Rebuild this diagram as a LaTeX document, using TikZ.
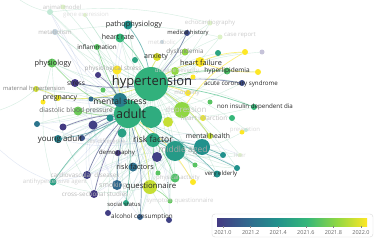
\documentclass[tikz,border=0pt]{standalone}
\usepackage{fontspec}
\setmainfont{Open Sans}
\usetikzlibrary{backgrounds}
\definecolor{v0}{HTML}{443A83}
\definecolor{v1}{HTML}{31688E}
\definecolor{v2}{HTML}{21918C}
\definecolor{v3}{HTML}{35B779}
\definecolor{v4}{HTML}{90D743}
\definecolor{v5}{HTML}{FDE725}
\definecolor{faint}{HTML}{A9DCC2}
\definecolor{faintb}{HTML}{B9C8E6}
\begin{document}
\begin{tikzpicture}[x=1pt,y=-1pt,
  nd/.style={circle, inner sep=0pt, minimum size=#1pt, draw=none},
  fdn/.style={fill opacity=0.3},
  lb/.style={inner sep=0pt, text=black!85, font=\fontsize{#1}{#1}\selectfont},
  flb/.style={inner sep=0pt, text=black!28, font=\fontsize{#1}{#1}\selectfont},
  mlb/.style={inner sep=0pt, text=black!50, font=\fontsize{#1}{#1}\selectfont},
  ed/.style={line width=0.7pt, draw=#1, draw opacity=0.6},
  fe/.style={line width=0.4pt, draw=faint, draw opacity=0.5},
  fb/.style={line width=0.4pt, draw=faintb, draw opacity=0.45},
  tick/.style={inner sep=0pt, text=black!60, font=\fontsize{5.5}{5.5}\selectfont}]
\useasboundingbox (0,0) rectangle (377,241);
\begin{scope}[on background layer]
\fill[white] (0,0) rectangle (377,241);
\end{scope}

% ---------- circles ----------
\node[nd=34, fill=v3!85!v2] (nHyp) at (151,84) {};
\node[nd=22, fill=v3!70!v2] (nAdult2) at (151,117) {};
\node[nd=28, fill=v3!80!v2] (nAdult) at (128,114) {};
\node[nd=14, fill=v1!50!v2] (nMS) at (120,100) {};
\node[nd=20, fill=v2!75!v3] (nMA) at (175,151) {};
\node[nd=16, fill=v2] (nMA2) at (202,147) {};
\node[nd=14, fill=v2!40!v3] (nRF) at (153,140) {};
\node[nd=10, fill=v0!85!v1] (u1) at (157,157) {};
\node[nd=14, fill=v4!50!v5] (nQ) at (150,187) {};
\node[nd=10, fill=v1] (nSmk) at (117,185) {};
\node[nd=9, fill=v1!80!v2] (nRFs) at (133,167) {};
\node[nd=6, fill=v0] (nDemo) at (118,153) {};
\node[nd=8, fill=v0!85!v1] (nCVD) at (87,175) {};
\node[nd=7, fill=v2!60!v3] (nAHA) at (53,182) {};
\node[nd=8, fill=v0] (nCSS) at (94,194) {};
\node[nd=6, fill=v2!50!v3] (nSoc) at (126,203) {};
\node[nd=6, fill=v1!80!v0] (nAlc) at (140,217) {};
\node[nd=6, fill=v0!90!v1] (u2) at (108,213) {};
\node[nd=6, fill=v0!80!v1] (u3) at (169,220) {};
\node[nd=9, fill=v3!70!v4] (nPA) at (175,178) {};
\node[nd=7, fill=v2] (nVE) at (217,174) {};
\node[nd=5, fill=v3!50!v4] (nSQ) at (170,201) {};
\node[nd=8, fill=v1!40!v2] (nYA) at (58,139) {};
\node[nd=6, fill=v0!50!v1] (nSex) at (82,138) {};
\node[nd=9, fill=v4!60!v3] (nDBP) at (78,111) {};
\node[nd=6, fill=v5!80!v4] (nPreg) at (58,98) {};
\node[nd=5, fill=v5] (nPreg2) at (43,102) {};
\node[nd=6, fill=v4!40!v5] (nMat) at (36,89) {};
\node[nd=8, fill=v0] (nStr) at (75,83) {};
\node[nd=9, fill=v3!50!v4] (nPhy) at (52,63) {};
\node[nd=9, fill=v5] (nPS) at (117,70) {};
\node[nd=6, fill=v3!60!v4] (nInf) at (97,47) {};
\node[nd=6, fill=v1, fdn] (nMet) at (55,32) {};
\node[nd=6, fill=v3, fdn] (nAM) at (50,12) {};
\node[nd=5, fill=v4, fdn] (nAM2) at (63,7) {};
\node[nd=4, fill=v4, fdn] (nGE) at (85,15) {};
\node[nd=9, fill=v2] (nPath) at (128,25) {};
\node[nd=9, fill=v3] (nHR) at (120,38) {};
\node[nd=6, fill=v0!60!v1] (nMedH) at (187,33) {};
\node[nd=5, fill=v4, fdn] (nEcho) at (210,23) {};
\node[nd=5, fill=v4, fdn] (nCase) at (220,37) {};
\node[nd=4, fill=v1, fdn] (nMetab) at (162,42) {};
\node[nd=7, fill=v4] (nDys) at (185,52) {};
\node[nd=8, fill=v5!70!v4] (nAnx) at (157,57) {};
\node[nd=6, fill=v2!50!v3] (u4) at (135,60) {};
\node[nd=10, fill=v5] (nHF) at (200,62) {};
\node[nd=6, fill=v2!50!v3] (u5) at (218,53) {};
\node[nd=6, fill=v5] (u6) at (245,52) {};
\node[nd=6, fill=v5] (u7) at (258,72) {};
\node[nd=5, fill=v0, fdn] (u8) at (262,52) {};
\node[nd=8, fill=v4] (nDS) at (175,71) {};
\node[nd=5, fill=v5] (u9) at (193,77) {};
\node[nd=7, fill=v3!70!v4] (nHL) at (227,71) {};
\node[nd=6, fill=v1!40!v0] (nACS) at (242,83) {};
\node[nd=6, fill=v5] (nMort) at (188,93) {};
\node[nd=6, fill=v3] (nNIDD) at (254,107) {};
\node[nd=16, fill=v4] (nDep) at (182,110) {};
\node[nd=6, fill=v5!80!v4] (nHI) at (203,118) {};
\node[nd=10, fill=v5!50!v4] (u10) at (168,122) {};
\node[nd=5, fill=v3!60!v4] (u11) at (210,102) {};
\node[nd=6, fill=v3] (u12) at (232,118) {};
\node[nd=5, fill=v5] (u13) at (242,132) {};
\node[nd=6, fill=v4!50!v5] (nMH) at (210,136) {};
\node[nd=6, fill=v2] (u14) at (223,155) {};
\node[nd=6, fill=v2] (u15) at (237,168) {};
\node[nd=5, fill=v3!60!v4] (u16) at (195,165) {};
\node[nd=6, fill=v5] (u17) at (193,182) {};
\node[nd=5, fill=v3!60!v4] (u18) at (158,173) {};
\node[nd=6, fill=v0] (u19) at (98,75) {};
\node[nd=9, fill=v0!90!v1] (u20) at (93,125) {};
\node[nd=7, fill=v0] (u21) at (63,127) {};
\node[nd=6, fill=v1!70!v2] (u22) at (37,124) {};
\node[nd=5, fill=v1] (u23) at (91,99) {};
\node[nd=7, fill=v2] (u24) at (110,118) {};
\node[nd=9, fill=v2!60!v3] (u25) at (122,133) {};
\node[nd=5, fill=v3!60!v4] (u26) at (103,90) {};
\node[nd=4, fill=v4, fdn] (nLiv) at (240,155) {};
\node[nd=4, fill=v3, fdn] (nPrev) at (246,130) {};
\coordinate (e1) at (0,150);
\coordinate (e2) at (0,110);
\coordinate (e3) at (20,0);

% ---------- edges ----------
\begin{scope}[on background layer]
\foreach \n in {nAdult,nMS,nRF,nMA,nMA2,nQ,nSmk,nRFs,nDemo,nCVD,nAHA,nCSS,nSoc,nAlc,nPA,nVE,nSQ,nYA,nSex,nDBP,nPreg,nMat,nStr,nPhy,nPS,nInf,nMet,nAM,nGE,nPath,nHR,nMedH,nEcho,nCase,nDys,nAnx,nHF,u5,u6,u7,u8,nDS,nHL,nACS,nMort,nNIDD,nDep,nHI,nMH,u14,u15,u17,u21,u22,nLiv,nPrev}
  \draw[fe] (nHyp) to[bend left=10] (\n);
\foreach \n in {nQ,nSmk,nRFs,nDemo,nCVD,nAHA,nCSS,nSoc,nAlc,nPA,nVE,nSQ,nYA,nSex,nDBP,nPreg,nMat,nStr,nPhy,nPS,nInf,nMet,nAM,nAM2,nGE,nPath,nHR,nMedH,nEcho,nCase,nHF,nHL,nACS,nNIDD,nDep,nMH,u14,u15,u2,u3,u21,u22,nLiv}
  \draw[fe] (nAdult) to[bend right=10] (\n);
\foreach \n in {nQ,nSmk,nCVD,nAHA,nCSS,nSoc,nAlc,nPA,nVE,nSQ,nYA,nSex,u2,u3,u14,u15,u16,u17,nMH,nLiv,nDBP,u22}
  \draw[fb] (nRF) to[bend left=12] (\n);
\foreach \n in {nPhy,nInf,nMet,nAM,nPath,nHR,nStr,nPreg,nMat,nDBP,nYA,u22,nAHA,nCVD,nPS}
  \draw[fb] (nMS) to[bend left=12] (\n);
\foreach \n in {nQ,nSmk,nCSS,nSoc,nAlc,nVE,nSQ,u14,u15,nLiv,nPrev,nMH,nCVD}
  \draw[fe] (nMA) to[bend right=12] (\n);
\foreach \n in {nCVD,nCSS,nSmk,nAlc,nYA,nSex,nMet,nAM}
  \draw[fb] (u20) to[bend right=12] (\n);
\draw[fe] (nAHA) to[bend left=15] (nPhy);
\draw[fe] (nAHA) to[bend right=15] (nQ);
\draw[fe] (nMet) to[bend left=10] (nCase);
\draw[fe] (nAM) to[bend left=10] (nEcho);
\draw[fe] (nPhy) to[bend right=15] (nCSS);
\draw[fb] (nAHA) to[bend left=10] (e1);
\draw[fe] (nMat) to[bend left=10] (e2);
\draw[fe] (nAM) to[bend left=10] (e3);

% visible coloured edges
\draw[ed=v2] (nHyp) to[bend right=12] (nPath);
\draw[ed=v3] (nHyp) to[bend right=10] (nHR);
\draw[ed=v0!60!v1] (nHyp) to[bend right=8] (nMedH);
\draw[ed=v5!70!v4] (nHyp) to[bend left=8] (nAnx);
\draw[ed=v5] (nHyp) to[bend left=10] (nHF);
\draw[ed=v5] (nHF) to[bend left=10] (u6);
\draw[ed=v5] (nHF) to[bend right=10] (u7);
\draw[ed=v5] (nDep) to[bend left=12] (u6);
\draw[ed=v3!60!v4] (nHyp) to[bend left=10] (nHL);
\draw[ed=v0!70!v1] (nHyp) to[bend left=8] (nStr);
\draw[ed=v5!80!v4] (nHyp) to[bend left=10] (nPreg);
\draw[ed=v4!40!v5] (nPreg) to[bend right=10] (nMat);
\draw[ed=v4!60!v3] (nAdult) to[bend left=8] (nDBP);
\draw[ed=v3!60!v4] (nAdult) to[bend left=6] (nInf);
\draw[ed=v3!50!v4] (nAdult) to[bend left=12] (nPhy);
\draw[ed=v5] (nAdult) to[bend left=8] (nPS);
\draw[ed=v1!40!v2] (nAdult) to[bend left=10] (nYA);
\draw[ed=v0!50!v1] (nAdult) to[bend right=6] (nSex);
\draw[ed=v0] (nAdult) to[bend right=8] (u20);
\draw[ed=v0] (nAdult) to[bend right=8] (u21);
\draw[ed=v0!85!v1] (nAdult) to[bend right=10] (nCVD);
\draw[ed=v2!60!v3] (nAdult) to[bend right=12] (nAHA);
\draw[ed=v0] (nAdult) to[bend right=8] (nCSS);
\draw[ed=v1] (nAdult) to[bend right=6] (nSmk);
\draw[ed=v2!50!v3] (nAdult) to[bend left=6] (nSoc);
\draw[ed=v1!80!v0] (nAdult) to[bend left=10] (nAlc);
\draw[ed=v4!50!v5] (nAdult) to[bend left=10] (nQ);
\draw[ed=v3!70!v4] (nAdult) to[bend left=12] (nPA);
\draw[ed=v2] (nAdult) to[bend left=10] (nVE);
\draw[ed=v5] (nAdult) to[bend left=12] (u17);
\draw[ed=v3!50!v4] (nQ) to[bend left=10] (nSQ);
\draw[ed=v1!40!v0] (nHyp) to[bend left=8] (nACS);
\draw[ed=v3] (nHyp) to[bend left=6] (nNIDD);
\draw[ed=v4!50!v5] (nHyp) to[bend left=10] (nMH);
\draw[ed=v5] (nHyp) to[bend left=6] (nMort);
\draw[ed=v2] (nRF) to[bend left=10] (u14);
\draw[ed=v2] (nRF) to[bend left=8] (u15);
\draw[ed=v3!60!v4] (nRF) to[bend right=8] (u18);
\draw[ed=v2!60!v3] (nRF) to[bend left=6] (u16);
\draw[ed=v1] (nMS) to[bend right=10] (u23);
\draw[ed=v0] (nMS) to[bend right=10] (u19);
\end{scope}

% ---------- labels ----------
\node[lb=13] (lHyp) at (152,82) {hypertension};
\node[lb=12.5] (lAdult) at (131,114) {adult};
\node[lb=8.5] (lMS) at (120,101) {mental stress};
\node[lb=8.5] (lRF) at (153,139) {risk factor};
\node[flb=8.5, text=black!35] (lMA) at (183,150) {middle aged};
\node[lb=7.8] (lQ) at (151,187) {questionnaire};
\node[flb=7] (lSmk) at (113,186) {smoking};
\node[lb=7.3] (lRFs) at (135,167) {risk factors};
\node[lb=6] (lDemo) at (117,153) {demography};
\node[flb=6.3] (lCVD) at (85,175) {cardiovascular diseases};
\node[flb=6, text=black!18] (lAHA) at (55,182) {antihypertensive agent};
\node[flb=6.3] (lCSS) at (95,194) {cross-sectional studies};
\node[lb=5.8] (lSoc) at (124,204) {social status};
\node[lb=6.3] (lAlc) at (142,217) {alcohol consumption};
\node[flb=6, text=black!22] (lPA) at (178,178) {physical activity};
\node[lb=6] (lVE) at (221,174) {very elderly};
\node[flb=6, text=black!18] (lSQ) at (180,201) {symptom questionnaire};
\node[lb=8] (lYA) at (60,139) {young adult};
\node[flb=6, text=black!20] (lSex) at (106,141) {sex difference};
\node[mlb=6.6, text=black!60] (lDBP) at (76,111) {diastolic blood pressure};
\node[lb=7] (lPreg) at (60,98) {pregnancy};
\node[mlb=5.8] (lMat) at (34,89) {maternal hypertension};
\node[lb=6.5] (lStr) at (76,83) {stress};
\node[lb=7.4] (lPhy) at (53,64) {physiology};
\node[flb=6.3, text=black!35] (lPS) at (113,69) {physiological stress};
\node[lb=6.3] (lInf) at (97,47) {inflammation};
\node[flb=6] (lMet) at (55,32) {metabolism};
\node[flb=6, text=black!22] (lAM) at (62,7) {animal model};
\node[flb=6, text=black!12] (lGE) at (86,15) {gene expression};
\node[lb=7.3] (lPath) at (134,25) {pathophysiology};
\node[lb=7] (lHR) at (118,37) {heart rate};
\node[lb=5.8] (lMedH) at (188,33) {medical history};
\node[flb=6, text=black!20] (lEcho) at (210,23) {echocardiography};
\node[flb=6, text=black!20] (lCase) at (240,35) {case report};
\node[flb=6, text=black!15] (lMetab) at (162,42) {metabolic};
\node[mlb=6.3] (lDys) at (185,52) {dyslipidemia};
\node[lb=7] (lAnx) at (156,57) {anxiety};
\node[lb=7.3] (lHF) at (201,63) {heart failure};
\node[flb=6, text=black!20] (lDS) at (177,71) {disease severity};
\node[lb=6.5] (lHL) at (227,71) {hyperlipidemia};
\node[lb=6.2] (lACS) at (241,84) {acute coronary syndrome};
\node[flb=6, text=black!25] (lMort) at (187,93) {mortality};
\node[lb=6.2] (lNIDD) at (255,107) {non insulin dependent dia};
\node[flb=8, text=black!20] (lDep) at (186,110) {depression};
\node[flb=6.5, text=black!25] (lHI) at (204,118) {heart infarction};
\node[flb=6, text=black!15] (lPrev) at (245,130) {prevention};
\node[lb=6.8] (lMH) at (208,136) {mental health};
\node[flb=6, text=black!15] (lLiv) at (240,155) {liver};

% ---------- legend ----------
\draw[rounded corners=3pt, draw=black!15, fill=white] (212,214) rectangle (373,237);
\shade[left color=v0, right color=v1] (217,218) rectangle (247,226);
\shade[left color=v1, right color=v2] (247,218) rectangle (277,226);
\shade[left color=v2, right color=v3] (277,218) rectangle (307,226);
\shade[left color=v3, right color=v4] (307,218) rectangle (337,226);
\shade[left color=v4, right color=v5] (337,218) rectangle (367,226);
\foreach \i/\t in {0/2021.0,1/2021.2,2/2021.4,3/2021.6,4/2021.8,5/2022.0} {
  \draw[black!50, line width=0.4pt] ({223+27.6*\i},226) -- ({223+27.6*\i},228);
  \node[tick] (tk\i) at ({223+27.6*\i},232.5) {\t};
}
\end{tikzpicture}
\end{document}
